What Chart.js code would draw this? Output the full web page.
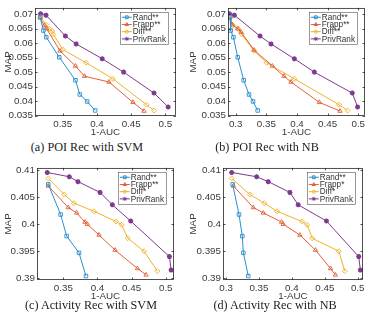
<!DOCTYPE html>
<html>
<head>
<meta charset="utf-8">
<script src="https://cdn.jsdelivr.net/npm/chart.js@4.4.0/dist/chart.umd.min.js"></script>
<style>
  body { margin: 0; background: #fff; width: 371px; height: 321px; position: relative; overflow: hidden; }
  canvas { position: absolute; }
  .cap { position: absolute; font-family: "Liberation Serif", serif; font-size: 12.2px; color: #222; white-space: nowrap; transform: translate(-50%, -50%); }
</style>
</head>
<body>
<script>
// ---- data: [1-AUC, MAP] ----
const poiSvmRand = [[0.317, 0.0689], [0.3217, 0.0643], [0.326, 0.062], [0.345, 0.0551], [0.3686, 0.0472], [0.375, 0.0423], [0.3857, 0.0399], [0.3974, 0.0368]]
const poiSvmFrapp = [[0.317, 0.0687], [0.3231, 0.066], [0.3265, 0.0649], [0.346, 0.0573], [0.3686, 0.0521], [0.3818, 0.0486], [0.4175, 0.0466], [0.4526, 0.0396], [0.4688, 0.0366]]
const poiSvmDiff = [[0.318, 0.0689], [0.3256, 0.0663], [0.3304, 0.0649], [0.3344, 0.0641], [0.3363, 0.063], [0.35, 0.0578], [0.3842, 0.0532], [0.4233, 0.0477], [0.4722, 0.0388], [0.4834, 0.0368]]
const poiSvmPriv = [[0.3177, 0.0701], [0.3256, 0.0696], [0.3539, 0.0624], [0.3696, 0.0597], [0.4077, 0.0546], [0.439, 0.05], [0.4834, 0.0428], [0.504, 0.038]]

const poiNbRand = [[0.2908, 0.0689], [0.2918, 0.0643], [0.2962, 0.062], [0.3033, 0.0551], [0.313, 0.0472], [0.3217, 0.0423], [0.3283, 0.0399], [0.3359, 0.0368]]
const poiNbFrapp = [[0.2897, 0.0687], [0.2946, 0.0663], [0.3033, 0.0649], [0.3087, 0.0638], [0.3299, 0.0576], [0.3598, 0.0521], [0.3788, 0.0486], [0.3902, 0.0466], [0.4364, 0.0396], [0.4701, 0.0366]]
const poiNbDiff = [[0.2908, 0.0689], [0.2962, 0.066], [0.3043, 0.0649], [0.3098, 0.063], [0.3299, 0.0573], [0.3505, 0.0532], [0.3957, 0.0477], [0.4685, 0.0388], [0.4826, 0.0368]]
const poiNbPriv = [[0.2897, 0.0701], [0.2978, 0.0696], [0.3397, 0.0624], [0.3576, 0.0597], [0.3957, 0.0546], [0.4283, 0.05], [0.4902, 0.0428], [0.4989, 0.038]]

const actSvmRand = [[0.328, 0.4074], [0.3461, 0.4018], [0.3549, 0.3978], [0.373, 0.3947], [0.3832, 0.3904]]
const actSvmFrapp = [[0.328, 0.4071], [0.3573, 0.4031], [0.3696, 0.4021], [0.3818, 0.4004], [0.3852, 0.4], [0.4023, 0.398], [0.4258, 0.3952], [0.4585, 0.3918], [0.4712, 0.3906]]
const actSvmDiff = [[0.328, 0.4085], [0.3515, 0.4055], [0.3656, 0.4039], [0.395, 0.4024], [0.4272, 0.4005], [0.4355, 0.3999], [0.4443, 0.3974], [0.4683, 0.395], [0.4878, 0.3913]]
const actSvmPriv = [[0.3265, 0.4096], [0.3588, 0.4088], [0.3715, 0.4079], [0.4038, 0.4059], [0.4218, 0.4036], [0.4487, 0.4006], [0.5054, 0.394], [0.5079, 0.3915]]

const actNbRand = [[0.3101, 0.4074], [0.3197, 0.4018], [0.3247, 0.3978], [0.3263, 0.3947], [0.3338, 0.3904]]
const actNbFrapp = [[0.3111, 0.4071], [0.3414, 0.4031], [0.3566, 0.4021], [0.3843, 0.4004], [0.3869, 0.4], [0.4121, 0.398], [0.4359, 0.3952], [0.4586, 0.3918], [0.4662, 0.3906]]
const actNbDiff = [[0.3086, 0.4085], [0.3364, 0.4055], [0.3581, 0.4039], [0.3773, 0.4024], [0.4157, 0.4005], [0.4232, 0.3999], [0.4308, 0.3974], [0.4712, 0.395], [0.4803, 0.3913]]
const actNbPriv = [[0.3086, 0.4096], [0.3465, 0.4088], [0.3641, 0.4079], [0.397, 0.4059], [0.4096, 0.4036], [0.4525, 0.4006], [0.5015, 0.394], [0.504, 0.3915]]

const poiLabels = ['Rand**', 'Frapp**', 'Diff**', 'PrivRank']
const actSvmLabels = ['Rand**', 'Frapp**', 'Diff*', 'PrivRank']
const actNbLabels = ['Rand**', 'Frapp*', 'Diff*', 'PrivRank']

const captions = ['(a) POI Rec with SVM', '(b) POI Rec with NB', '(c) Activity Rec with SVM', '(d) Activity Rec with NB']

const colors = ['#2b8fd0', '#e0603a', '#efb22a', '#7e3a8e']
const markers = ['rect', 'triangle', 'rectRot', 'star']

// panel layout: canvas origin + plot box in page pixels, axis ranges
const panels = [
    { left: 0, top: 0, plot: [35, 3, 176, 116], x: [0.3095, 0.5155], y: [0.0349, 0.0721], yStep: 0.005,
      series: [poiSvmRand, poiSvmFrapp, poiSvmDiff, poiSvmPriv], labels: poiLabels, cap: [87, 147] },
    { left: 185, top: 0, plot: [228, 3, 365, 116], x: [0.2874, 0.511], y: [0.0349, 0.0721], yStep: 0.005,
      series: [poiNbRand, poiNbFrapp, poiNbDiff, poiNbPriv], labels: poiLabels, cap: [267, 147] },
    { left: 0, top: 160, plot: [37, 167, 174, 280], x: [0.3115, 0.5121], y: [0.38966, 0.41045], yStep: 0.005,
      series: [actSvmRand, actSvmFrapp, actSvmDiff, actSvmPriv], labels: actSvmLabels, cap: [91, 305] },
    { left: 185, top: 160, plot: [223, 167, 363, 280], x: [0.2954, 0.508], y: [0.38966, 0.41045], yStep: 0.005,
      series: [actNbRand, actNbFrapp, actNbDiff, actNbPriv], labels: actNbLabels, cap: [275, 305] },
]

const fontSans = '"Liberation Sans", Arial, sans-serif'
const tickColor = '#3a3a3a'

function fmt(v) {
    return String(parseFloat(v.toFixed(4)))
}

function drawMarker(ctx, style, x, y, r) {
    if (Chart.helpers && Chart.helpers.drawPoint) {
        Chart.helpers.drawPoint(ctx, { pointStyle: style, radius: r, borderWidth: 1, rotation: 0 }, x, y)
    }
}

// box round the plot, inward ticks and a MATLAB-like legend
const boxPlugin = {
    id: 'box',
    afterDraw(chart) {
        const ctx = chart.ctx
        const a = chart.chartArea
        const xs = chart.scales.x
        const ys = chart.scales.y
        ctx.save()
        ctx.strokeStyle = '#262626'
        ctx.lineWidth = 0.8
        ctx.strokeRect(a.left + 0.5, a.top + 0.5, a.right - a.left - 1, a.bottom - a.top - 1)
        ctx.beginPath()
        xs.ticks.forEach(t => {
            const px = Math.round(xs.getPixelForValue(t.value)) + 0.5
            ctx.moveTo(px, a.bottom); ctx.lineTo(px, a.bottom - 2.5)
            ctx.moveTo(px, a.top); ctx.lineTo(px, a.top + 2.5)
        })
        ys.ticks.forEach(t => {
            const py = Math.round(ys.getPixelForValue(t.value)) + 0.5
            ctx.moveTo(a.left, py); ctx.lineTo(a.left + 2.5, py)
            ctx.moveTo(a.right, py); ctx.lineTo(a.right - 2.5, py)
        })
        ctx.stroke()

        // legend
        const ds = chart.data.datasets
        ctx.font = '8.2px ' + fontSans
        let tw = 0
        ds.forEach(d => { tw = Math.max(tw, ctx.measureText(d.label).width) })
        const rowH = 7.2
        const bw = 13 + tw + 2
        const bh = rowH * ds.length + 3
        const bx = a.right - 8 - bw
        const by = a.top + 4
        ctx.fillStyle = '#fff'
        ctx.fillRect(bx, by, bw, bh)
        ctx.strokeStyle = '#555'
        ctx.lineWidth = 0.6
        ctx.strokeRect(Math.round(bx) + 0.5, Math.round(by) + 0.5, Math.round(bw), Math.round(bh))
        ds.forEach((d, i) => {
            const ry = by + 1.8 + rowH * i + rowH / 2
            ctx.strokeStyle = d.borderColor
            ctx.lineWidth = 1
            ctx.beginPath()
            ctx.moveTo(bx + 2, ry); ctx.lineTo(bx + 12, ry)
            ctx.stroke()
            ctx.fillStyle = d.pointStyle === 'star' ? d.borderColor : 'rgba(0,0,0,0)'
            drawMarker(ctx, d.pointStyle, bx + 7, ry, 2)
            ctx.fillStyle = '#333'
            ctx.textBaseline = 'middle'
            ctx.textAlign = 'left'
            ctx.fillText(d.label, bx + 13, ry + 0.5)
        })
        ctx.restore()
    }
}

panels.forEach((p, k) => {
    const cw = 186
    const axisH = 22
    const ch = p.plot[3] - p.top + axisH
    const canvas = document.createElement('canvas')
    canvas.width = cw
    canvas.height = ch
    canvas.style.left = p.left + 'px'
    canvas.style.top = p.top + 'px'
    canvas.style.width = cw + 'px'
    canvas.style.height = ch + 'px'
    document.body.appendChild(canvas)

    const cap = document.createElement('div')
    cap.className = 'cap'
    cap.textContent = captions[k]
    cap.style.left = p.cap[0] + 'px'
    cap.style.top = p.cap[1] + 'px'
    document.body.appendChild(cap)

    const datasets = p.series.map((s, i) => ({
        label: p.labels[i],
        data: s.map(v => ({ x: v[0], y: v[1] })),
        showLine: true,
        borderColor: colors[i],
        borderWidth: 1,
        pointStyle: markers[i],
        pointRadius: i === 3 ? 2.5 : 2.5,
        pointBorderWidth: i === 3 ? 1.5 : 0.9,
        pointBorderColor: colors[i],
        pointBackgroundColor: i === 3 ? colors[i] : 'rgba(0,0,0,0)',
        tension: 0
    }))

    new Chart(canvas.getContext('2d'), {
        type: 'scatter',
        data: { datasets: datasets },
        options: {
            responsive: false,
            animation: false,
            devicePixelRatio: 1,
            layout: {
                padding: { top: p.plot[1] - p.top, right: p.left + cw - p.plot[2], left: 0, bottom: 0 }
            },
            plugins: { legend: { display: false }, tooltip: { enabled: false } },
            scales: {
                x: {
                    type: 'linear',
                    min: p.x[0],
                    max: p.x[1],
                    grid: { display: false, drawTicks: false },
                    border: { display: false },
                    ticks: { stepSize: 0.05, includeBounds: false, color: tickColor, padding: 2,
                        font: { family: fontSans, size: 9.8 }, callback: v => fmt(v), maxRotation: 0 },
                    title: { display: true, text: '1-AUC', color: tickColor, padding: 0,
                        font: { family: fontSans, size: 9.8 } },
                    afterFit: s => { s.height = axisH }
                },
                y: {
                    type: 'linear',
                    min: p.y[0],
                    max: p.y[1],
                    grid: { display: false, drawTicks: false },
                    border: { display: false },
                    ticks: { stepSize: p.yStep, includeBounds: false, color: tickColor, padding: 2,
                        font: { family: fontSans, size: 9.8 }, callback: v => fmt(v) },
                    title: { display: true, text: 'MAP', color: tickColor, padding: { top: 2, bottom: 0 },
                        font: { family: fontSans, size: 9.8 } },
                    afterFit: s => { s.width = p.plot[0] - p.left }
                }
            }
        },
        plugins: [boxPlugin]
    })
})
</script>
</body>
</html>
